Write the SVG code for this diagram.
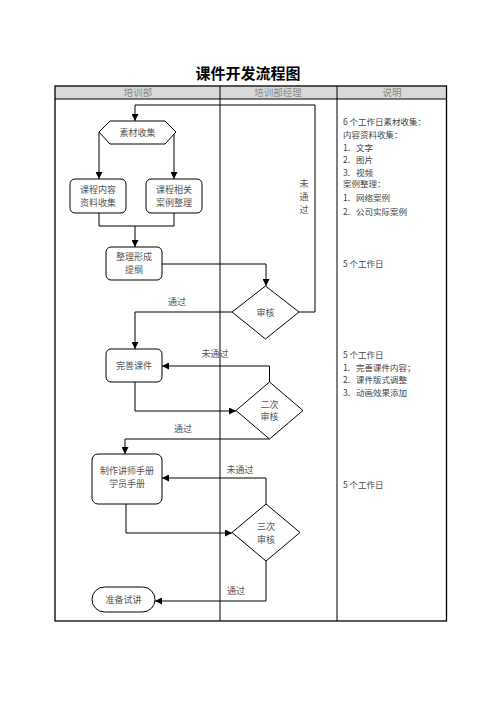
<svg xmlns="http://www.w3.org/2000/svg" width="496" height="702" viewBox="0 0 496 702">
<defs>
<marker id="arr" viewBox="0 0 10 10" refX="10" refY="5" markerWidth="7" markerHeight="7" orient="auto" markerUnits="userSpaceOnUse">
<path d="M0,0 L10,5 L0,10 z" fill="#000"/>
</marker>
</defs>
<style>
.t{font-family:"Noto Sans CJK SC","Liberation Sans",sans-serif;font-size:9px;fill:#555;}
.c{text-anchor:middle;}
.h{font-family:"Noto Sans CJK SC","Liberation Sans",sans-serif;font-size:9.5px;fill:#888;text-anchor:middle;}
.n{fill:#fff;stroke:#000;stroke-width:1;}
.ln{fill:none;stroke:#000;stroke-width:1;}
.r{font-family:"Noto Sans CJK SC","Liberation Sans",sans-serif;font-size:8.5px;fill:#444;}
</style>
<rect width="496" height="702" fill="#fff"/>
<text x="248" y="79" text-anchor="middle" style="font-family:'Noto Sans CJK SC',sans-serif;font-size:15px;font-weight:bold;fill:#000">课件开发流程图</text>
<g id="table">
<rect x="55" y="86" width="391.5" height="13" fill="#d9d9d9"/>
<rect x="55" y="86" width="391.5" height="535" fill="none" stroke="#000" stroke-width="1.3"/>
<line x1="55" y1="99" x2="446.5" y2="99" stroke="#000" stroke-width="1"/>
<line x1="220" y1="86" x2="220" y2="621" stroke="#000" stroke-width="1"/>
<line x1="337" y1="86" x2="337" y2="621" stroke="#000" stroke-width="1"/>
<text class="h" x="138" y="96">培训部</text>
<text class="h" x="278" y="96">培训部经理</text>
<text class="h" x="392" y="96">说明</text>
</g>
<g id="connectors">
<polyline class="ln" points="299,312 315,312 315,105 135,105 135,121" marker-end="url(#arr)"/>
<polyline class="ln" points="99,132 99,179" marker-end="url(#arr)"/>
<polyline class="ln" points="174,132 174,179" marker-end="url(#arr)"/>
<polyline class="ln" points="99,213 99,226 174,226 174,213"/>
<polyline class="ln" points="135,226 135,247" marker-end="url(#arr)"/>
<polyline class="ln" points="162,264 266,264 266,286" marker-end="url(#arr)"/>
<polyline class="ln" points="232,312 135,312 135,349" marker-end="url(#arr)"/>
<polyline class="ln" points="269.5,382 269.5,366 162,366" marker-end="url(#arr)"/>
<polyline class="ln" points="135,382 135,411 236,411" marker-end="url(#arr)"/>
<polyline class="ln" points="269.5,439 125,439 125,454" marker-end="url(#arr)"/>
<polyline class="ln" points="266,504 266,478 162,478" marker-end="url(#arr)"/>
<polyline class="ln" points="126,504 126,533 232,533" marker-end="url(#arr)"/>
<polyline class="ln" points="266,561 266,601 155,601" marker-end="url(#arr)"/>
<text class="t c" x="304" y="187">未</text>
<text class="t c" x="304" y="200">通</text>
<text class="t c" x="304" y="213">过</text>
<text class="t c" x="177" y="305">通过</text>
<text class="t c" x="215" y="357">未通过</text>
<text class="t c" x="183" y="432">通过</text>
<text class="t c" x="240" y="473">未通过</text>
<text class="t c" x="236" y="594">通过</text>
</g>
<g id="n1"><polygon class="n" points="99,132 110,121 165,121 176,132 165,144 110,144"/><text class="t c" x="137.5" y="135.5">素材收集</text></g>
<g id="n2"><rect class="n" x="70" y="179" width="56" height="34" rx="5"/><text class="t c" x="98" y="193">课程内容</text><text class="t c" x="98" y="206">资料收集</text></g>
<g id="n3"><rect class="n" x="146" y="179" width="56" height="34" rx="5"/><text class="t c" x="174" y="193">课程相关</text><text class="t c" x="174" y="206">案例整理</text></g>
<g id="n4"><rect class="n" x="106" y="247" width="56" height="33" rx="5"/><text class="t c" x="134" y="260">整理形成</text><text class="t c" x="134" y="273">提纲</text></g>
<g id="n5"><polygon class="n" points="265.5,286 299,312 265.5,339 232,312"/><text class="t c" x="265.5" y="315.5">审核</text></g>
<g id="n6"><rect class="n" x="106" y="349" width="56" height="33" rx="5"/><text class="t c" x="134" y="369">完善课件</text></g>
<g id="n7"><polygon class="n" points="269.5,382 303,410.5 269.5,439 236,410.5"/><text class="t c" x="269.5" y="408">二次</text><text class="t c" x="269.5" y="420">审核</text></g>
<g id="n8"><rect class="n" x="92" y="454" width="70" height="50" rx="6"/><text class="t c" x="127" y="474">制作讲师手册</text><text class="t c" x="127" y="487">学员手册</text></g>
<g id="n9"><polygon class="n" points="266,504 300,532.5 266,561 232,532.5"/><text class="t c" x="266" y="530">三次</text><text class="t c" x="266" y="543">审核</text></g>
<g id="n10"><rect class="n" x="92" y="587" width="63" height="25" rx="12.5"/><text class="t c" x="123.5" y="603">准备试讲</text></g>
<g id="notes">
<text class="r" x="343" y="125">6 个工作日素材收集：</text>
<text class="r" x="343" y="137.5">内容资料收集：</text>
<text class="r" x="343" y="150.5">1.</text><text class="r" x="356" y="150.5">文字</text>
<text class="r" x="343" y="163">2.</text><text class="r" x="356" y="163">图片</text>
<text class="r" x="343" y="175.5">3.</text><text class="r" x="356" y="175.5">视频</text>
<text class="r" x="343" y="187">案例整理：</text>
<text class="r" x="343" y="201">1.</text><text class="r" x="356" y="201">网络案例</text>
<text class="r" x="343" y="214.5">2.</text><text class="r" x="356" y="214.5">公司实际案例</text>
<text class="r" x="343" y="266.5">5 个工作日</text>
<text class="r" x="343" y="358">5 个工作日</text>
<text class="r" x="343" y="370.5">1.</text><text class="r" x="356" y="370.5">完善课件内容；</text>
<text class="r" x="343" y="383">2.</text><text class="r" x="356" y="383">课件版式调整</text>
<text class="r" x="343" y="396">3.</text><text class="r" x="356" y="396">动画效果添加</text>
<text class="r" x="343" y="488">5 个工作日</text>
</g>
</svg>
